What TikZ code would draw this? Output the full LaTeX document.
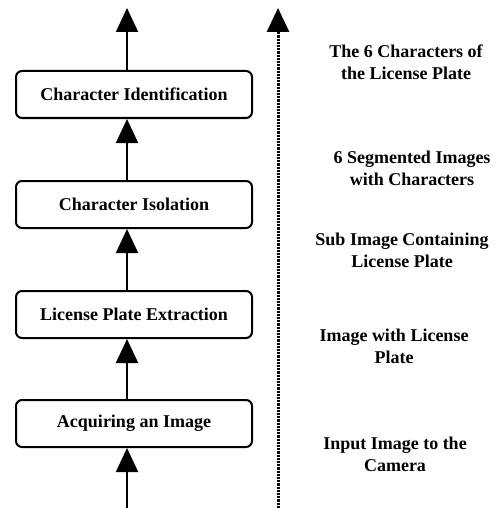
\documentclass[tikz,border=0pt]{standalone}
\usepackage{fontspec}
\setmainfont{Liberation Serif}
\usetikzlibrary{arrows.meta}
\begin{document}
\begin{tikzpicture}[x=1pt,y=-1pt,
  stage/.style={draw,line width=2pt,rounded corners=6pt,minimum width=236pt,minimum height=47pt,inner sep=0pt,font=\fontsize{18}{20}\selectfont\bfseries},
  lbl/.style={align=center,font=\fontsize{18}{22}\selectfont\bfseries},
  flow/.style={line width=2pt,-{Triangle[length=24pt,width=22pt]}},
  dflow/.style={line width=3pt,dash pattern=on 2.2pt off 1pt,-{Triangle[length=24pt,width=22pt]}}]
\useasboundingbox (0,0) rectangle (502,508);
\node[stage] (ci) at (134,94.5) {Character Identification};
\node[stage] (cs) at (134,204.5) {Character Isolation};
\node[stage] (lp) at (134,314.5) {License Plate Extraction};
\node[stage] (ai) at (134,423.5) {Acquiring an Image};
\coordinate (top) at (127,8);
\coordinate (bot) at (127,508);
\draw[flow] (bot) -- (ai.south -| bot);
\draw[flow] (ai.north -| bot) -- (lp.south -| bot);
\draw[flow] (lp.north -| bot) -- (cs.south -| bot);
\draw[flow] (cs.north -| bot) -- (ci.south -| bot);
\draw[flow] (ci.north -| bot) -- (top);
\coordinate (dbot) at (278,508);
\coordinate (dtop) at (278,8);
\draw[dflow] (dbot) -- (dtop);
\node[lbl] (l1) at (406,62) {The 6 Characters of\\the License Plate};
\node[lbl] (l2) at (412,168) {6 Segmented Images\\with Characters};
\node[lbl] (l3) at (402,250) {Sub Image Containing\\License Plate};
\node[lbl] (l4) at (394,346) {Image with License\\Plate};
\node[lbl] (l5) at (395,454) {Input Image to the\\Camera};
\end{tikzpicture}
\end{document}
